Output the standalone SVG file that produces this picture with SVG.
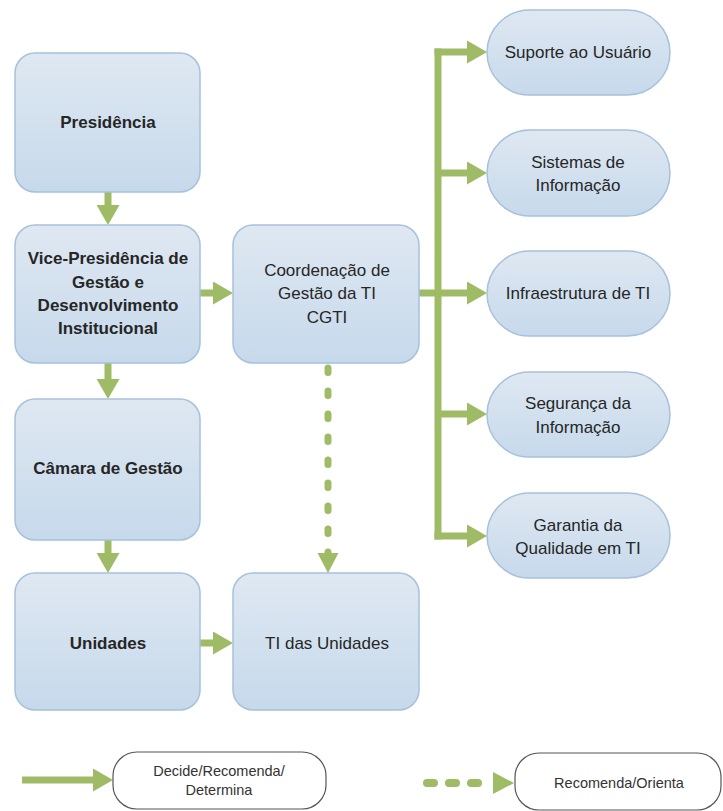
<svg xmlns="http://www.w3.org/2000/svg" width="723" height="811" viewBox="0 0 723 811">
<style>
.box{fill:url(#bg);stroke:#a6c1dc;stroke-width:1.5}
.lg{fill:#ffffff;stroke:#555555;stroke-width:1.2}
.t{font-family:"Liberation Sans",Arial,sans-serif;font-size:17px;fill:#262626;text-anchor:middle}
.b{font-weight:bold}
.lt{font-family:"Liberation Sans",Arial,sans-serif;font-size:14.5px;fill:#333333;text-anchor:middle}
.c{stroke:#9fbb66;stroke-width:7;fill:none}
.d{stroke:#9fbb66;stroke-width:7;fill:none;stroke-linecap:round;stroke-dasharray:4.5 18.5}
</style>
<defs>
<linearGradient id="bg" x1="0" y1="0" x2="0" y2="1">
<stop offset="0" stop-color="#dfe8f2"/>
<stop offset="1" stop-color="#c6d9eb"/>
</linearGradient>
<marker id="ah" markerUnits="userSpaceOnUse" markerWidth="20" markerHeight="23" viewBox="0 0 20 23" refX="0" refY="11.5" orient="auto">
<path d="M0,0 L20,11.5 L0,23 Z" fill="#9fbb66"/>
</marker>
</defs>
<rect width="723" height="811" fill="#ffffff"/>

<g id="connectors">
<line class="c" x1="108" y1="192" x2="108" y2="205" marker-end="url(#ah)"/>
<line class="c" x1="108" y1="363" x2="108" y2="379" marker-end="url(#ah)"/>
<line class="c" x1="108" y1="540" x2="108" y2="553" marker-end="url(#ah)"/>
<line class="c" x1="197" y1="293" x2="213" y2="293" marker-end="url(#ah)"/>
<line class="c" x1="197" y1="643" x2="213" y2="643" marker-end="url(#ah)"/>
<line class="d" x1="328" y1="368" x2="328" y2="553"/>
<path d="M317.5,553 L328,573 L338.5,553 Z" fill="#9fbb66"/>
<line class="c" x1="418" y1="293" x2="438" y2="293"/>
<line class="c" x1="438" y1="48.5" x2="438" y2="539.5"/>
<line class="c" x1="434.5" y1="52" x2="467" y2="52" marker-end="url(#ah)"/>
<line class="c" x1="438" y1="173" x2="467" y2="173" marker-end="url(#ah)"/>
<line class="c" x1="438" y1="293" x2="467" y2="293" marker-end="url(#ah)"/>
<line class="c" x1="438" y1="414" x2="467" y2="414" marker-end="url(#ah)"/>
<line class="c" x1="434.5" y1="536" x2="467" y2="536" marker-end="url(#ah)"/>
</g>

<g id="presidencia">
<rect class="box" x="15" y="53" width="185" height="139" rx="20"/>
<text class="t b" x="108" y="128">Presidência</text>
</g>
<g id="vice-presidencia">
<rect class="box" x="15" y="225" width="185" height="138" rx="20"/>
<text class="t b" x="108" y="264">Vice-Presidência de</text>
<text class="t b" x="108" y="288">Gestão e</text>
<text class="t b" x="108" y="311">Desenvolvimento</text>
<text class="t b" x="108" y="334">Institucional</text>
</g>
<g id="camara">
<rect class="box" x="15" y="399" width="185" height="141" rx="20"/>
<text class="t b" x="108" y="474">Câmara de Gestão</text>
</g>
<g id="unidades">
<rect class="box" x="15" y="573" width="185" height="137" rx="20"/>
<text class="t b" x="108" y="649">Unidades</text>
</g>
<g id="cgti">
<rect class="box" x="233" y="225" width="186" height="138" rx="20"/>
<text class="t" x="327" y="276">Coordenação de</text>
<text class="t" x="327" y="299">Gestão da TI</text>
<text class="t" x="327" y="323">CGTI</text>
</g>
<g id="ti-unidades">
<rect class="box" x="233" y="573" width="186" height="137" rx="20"/>
<text class="t" x="327" y="649">TI das Unidades</text>
</g>
<g id="suporte">
<rect class="box" x="487" y="10" width="183" height="85" rx="42.5"/>
<text class="t" x="578" y="58">Suporte ao Usuário</text>
</g>
<g id="sistemas">
<rect class="box" x="487" y="130" width="183" height="86" rx="43"/>
<text class="t" x="578" y="168">Sistemas de</text>
<text class="t" x="578" y="191">Informação</text>
</g>
<g id="infraestrutura">
<rect class="box" x="487" y="251" width="183" height="85" rx="42.5"/>
<text class="t" x="578" y="299">Infraestrutura de TI</text>
</g>
<g id="seguranca">
<rect class="box" x="487" y="372" width="183" height="85" rx="42.5"/>
<text class="t" x="578" y="409">Segurança da</text>
<text class="t" x="578" y="433">Informação</text>
</g>
<g id="garantia">
<rect class="box" x="487" y="493" width="183" height="85" rx="42.5"/>
<text class="t" x="578" y="531">Garantia da</text>
<text class="t" x="578" y="554">Qualidade em TI</text>
</g>

<g id="legenda">
<line class="c" x1="22" y1="780" x2="93" y2="780" marker-end="url(#ah)"/>
<rect class="lg" x="113" y="752" width="213" height="57" rx="24"/>
<text class="lt" x="219" y="776">Decide/Recomenda/</text>
<text class="lt" x="219" y="795">Determina</text>
<line x1="427" y1="783" x2="484" y2="783" stroke="#9fbb66" stroke-width="8" stroke-linecap="round" stroke-dasharray="7 15"/>
<path d="M493,772 L514,783 L493,794 Z" fill="#9fbb66"/>
<rect class="lg" x="515" y="753" width="206" height="57" rx="24"/>
<text class="lt" x="619" y="788">Recomenda/Orienta</text>
</g>
</svg>
